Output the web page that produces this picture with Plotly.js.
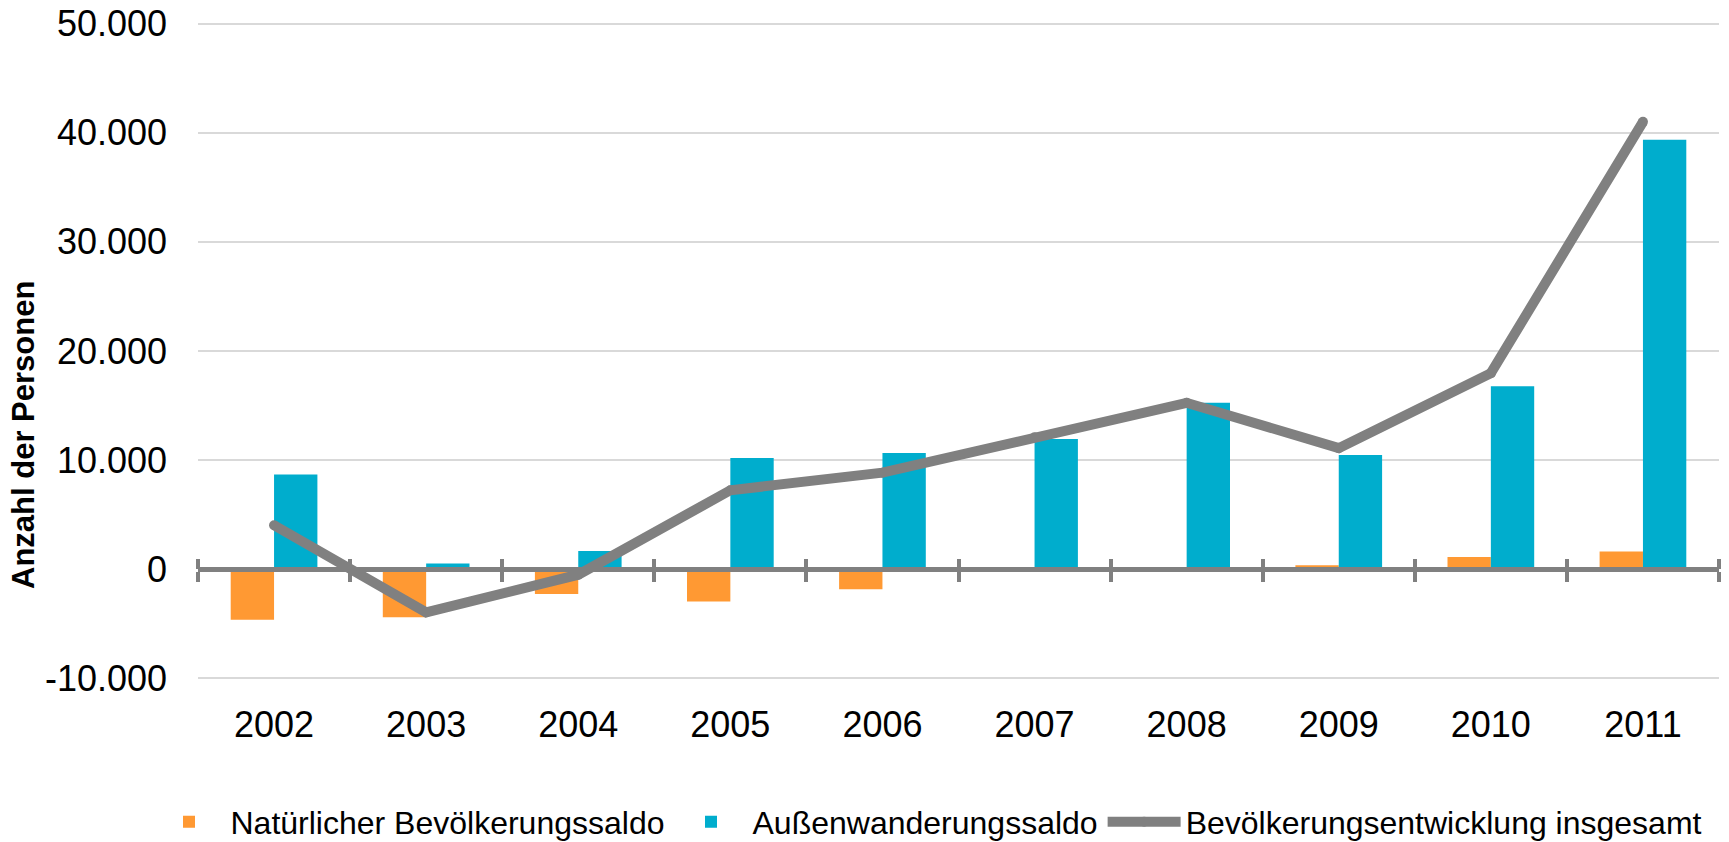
<!DOCTYPE html>
<html>
<head>
<meta charset="utf-8">
<script src="https://cdn.plot.ly/plotly-3.0.1.min.js"></script>
<style>html,body{margin:0;padding:0;background:#fff;}#chart{width:1729px;height:842px;}</style>
</head>
<body>
<div id="chart"></div>
<script>
// Data
const years = ['2002','2003','2004','2005','2006','2007','2008','2009','2010','2011'];
const natuerlicherSaldo = [-4630, -4410, -2280, -2950, -1830, 150, 0, 360, 1120, 1630];
const aussenwanderungsSaldo = [8680, 520, 1670, 10200, 10660, 11940, 15250, 10480, 16770, 39370];
const entwicklungGesamt = [4030, -3950, -500, 7240, 8850, 12100, 15250, 11100, 17970, 41000];
const yTickVals = [-10000, 0, 10000, 20000, 30000, 40000, 50000];
const yTickText = ['-10.000', '0', '10.000', '20.000', '30.000', '40.000', '50.000'];

const FONT = 'Liberation Sans, Arial, sans-serif';
const W = 1729, H = 842;
const M = {l: 198, r: 10, t: 22, b: 162, autoexpand: false};
const plotW = W - M.l - M.r, plotH = H - M.t - M.b;
const yMin = -10150, yMax = 50150;
const zeroPos = (0 - yMin) / (yMax - yMin);

const traces = [
  {type: 'bar', name: 'Natürlicher Bevölkerungssaldo', x: years, y: natuerlicherSaldo,
   marker: {color: '#FF9933'}, xaxis: 'x', yaxis: 'y', hoverinfo: 'skip'},
  {type: 'bar', name: 'Außenwanderungssaldo', x: years, y: aussenwanderungsSaldo,
   marker: {color: '#00ADCD'}, xaxis: 'x', yaxis: 'y', hoverinfo: 'skip'},
  {type: 'scatter', mode: 'lines+markers', name: 'Bevölkerungsentwicklung insgesamt', x: years, y: entwicklungGesamt,
   line: {color: '#808080', width: 10}, marker: {color: '#808080', size: 10, line: {width: 0}},
   xaxis: 'x2', yaxis: 'y', hoverinfo: 'skip'}
];

const layout = {
  width: W, height: H,
  margin: M,
  paper_bgcolor: '#ffffff', plot_bgcolor: '#ffffff',
  font: {family: FONT, color: '#000000', size: 36},
  showlegend: true,
  barmode: 'group', bargap: 0.43, bargroupgap: 0,
  xaxis: {
    type: 'category', range: [-0.5, 9.5], anchor: 'free', position: zeroPos, automargin: false,
    showline: true, linecolor: '#808080', linewidth: 4.5,
    ticks: 'outside', tickson: 'boundaries', ticklen: 10, tickwidth: 4, tickcolor: '#808080',
    showgrid: false, zeroline: false,
    tickfont: {family: FONT, size: 36, color: '#000'},
    ticklabelstandoff: 122
  },
  xaxis2: {
    type: 'category', range: [-0.5, 9.5], overlaying: 'x', matches: 'x', anchor: 'free', position: zeroPos,
    automargin: false, side: 'top', showline: false,
    ticks: 'outside', tickson: 'boundaries', ticklen: 10, tickwidth: 4, tickcolor: '#808080',
    showticklabels: false, showgrid: false, zeroline: false
  },
  yaxis: {
    range: [yMin, yMax], tickmode: 'array', tickvals: yTickVals, ticktext: yTickText, automargin: false,
    showgrid: true, gridcolor: '#D9D9D9', gridwidth: 2, zeroline: false, showline: false,
    ticks: '', tickfont: {family: FONT, size: 36, color: '#000'}, ticklabelstandoff: 30
  },
  legend: {
    orientation: 'h', x: (147.5 - M.l) / plotW, xanchor: 'left', y: (H - M.b - 794.5) / plotH, yanchor: 'top',
    font: {family: FONT, size: 32, color: '#000'}, itemwidth: 73, bgcolor: 'rgba(0,0,0,0)',
    tracegroupgap: 0, traceorder: 'normal'
  },
  annotations: [{
    text: 'Anzahl der Personen', textangle: -90, showarrow: false,
    xref: 'paper', yref: 'paper', x: (23 - M.l) / plotW, y: (H - M.b - 435) / plotH,
    xanchor: 'center', yanchor: 'middle',
    font: {family: FONT, size: 31, color: '#000', weight: 'bold'}
  }]
};

Plotly.newPlot('chart', traces, layout, {displayModeBar: false, staticPlot: true});
</script>
</body>
</html>
